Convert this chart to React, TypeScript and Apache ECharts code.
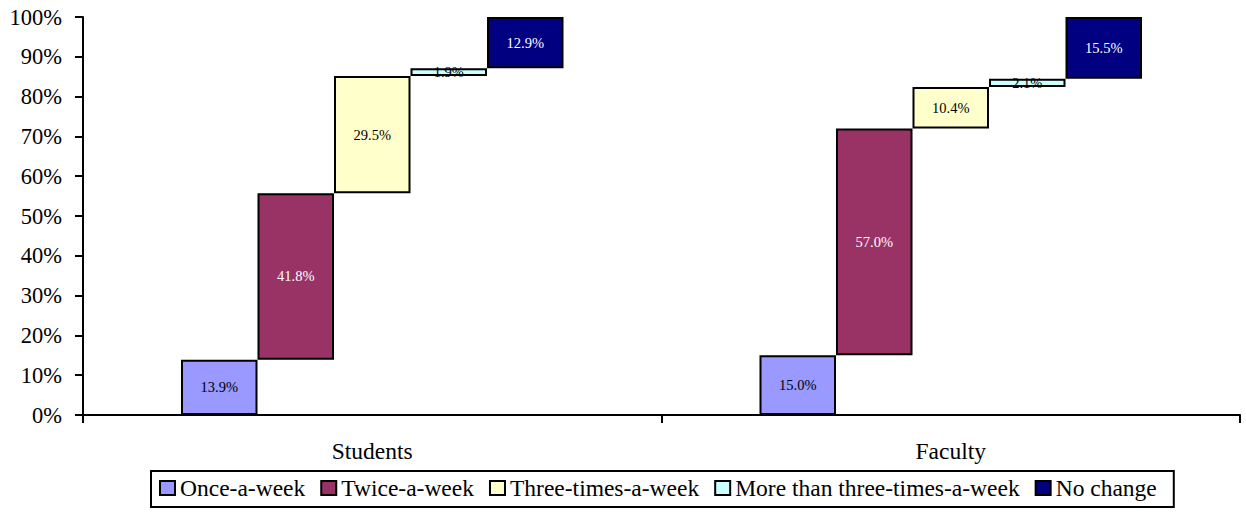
import React, { useEffect, useRef } from "react";
import * as echarts from "echarts";

const categories = ["Students", "Faculty"];
const seriesNames = [
  "Once-a-week",
  "Twice-a-week",
  "Three-times-a-week",
  "More than three-times-a-week",
  "No change",
];
// Share (%) per frequency, one array per frequency: [Students, Faculty]
const onceAWeek = [13.9, 15.0];
const twiceAWeek = [41.8, 57.0];
const threeTimesAWeek = [29.5, 10.4];
const moreThanThree = [1.9, 2.1];
const noChange = [12.9, 15.5];
const yTicks = [0, 10, 20, 30, 40, 50, 60, 70, 80, 90, 100];

const fillColors = ["#9999FF", "#993366", "#FFFFCC", "#CCFFFF", "#000080"];
const labelColors = ["#000", "#fff", "#000", "#000", "#fff"];

const FONT = "Liberation Serif";

export default function App() {
  const ref = useRef<HTMLDivElement>(null);

  useEffect(() => {
    if (!ref.current) return;
    const chart = echarts.init(ref.current, null, { renderer: "svg" });

    const valueSets = [onceAWeek, twiceAWeek, threeTimesAWeek, moreThanThree, noChange];
    // floating bars: each segment starts where the previous one ends
    const bases: number[][] = [];
    valueSets.forEach((vals, i) => {
      if (i === 0) bases.push(vals.map(() => 0));
      else bases.push(bases[i - 1].map((b, k) => b + valueSets[i - 1][k]));
    });

    const series: any[] = [];
    valueSets.forEach((vals, i) => {
      series.push({
        name: "base" + i,
        type: "bar",
        stack: "s" + i,
        barWidth: 76.5,
        barGap: "0%",
        silent: true,
        itemStyle: { color: "rgba(0,0,0,0)", borderWidth: 0 },
        data: bases[i].map((b) => +b.toFixed(2)),
      });
      series.push({
        name: seriesNames[i],
        type: "bar",
        stack: "s" + i,
        barWidth: 76.5,
        barGap: "0%",
        itemStyle: { color: fillColors[i], borderColor: "#000", borderWidth: 2 },
        label: {
          show: true,
          position: "inside",
          color: labelColors[i],
          fontFamily: FONT,
          fontSize: 14.5,
          formatter: (p: any) => Number(p.value).toFixed(1) + "%",
        },
        data: vals,
      });
    });

    chart.setOption({
      animation: false,
      textStyle: { fontFamily: FONT },
      grid: { left: 83, right: 6, top: 17, bottom: 97, containLabel: false },
      legend: {
        data: seriesNames,
        left: 151,
        top: 471,
        itemWidth: 15,
        itemHeight: 14,
        itemGap: 15,
        padding: [5, 17, 7, 8],
        borderColor: "#000",
        borderWidth: 2,
        icon: "rect",
        itemStyle: { borderColor: "#000", borderWidth: 2 },
        textStyle: { fontFamily: FONT, fontSize: 23.5, color: "#000" },
      },
      xAxis: {
        type: "category",
        data: categories,
        axisLine: { lineStyle: { color: "#000", width: 2 } },
        axisTick: { show: true, length: 8, lineStyle: { color: "#000", width: 2 } },
        axisLabel: { fontFamily: FONT, fontSize: 23.5, color: "#000", margin: 24 },
      },
      yAxis: {
        type: "value",
        min: yTicks[0],
        max: yTicks[yTicks.length - 1],
        interval: 10,
        splitLine: { show: false },
        axisLine: { show: true, lineStyle: { color: "#000", width: 2 } },
        axisTick: { show: true, length: 8, lineStyle: { color: "#000", width: 2 } },
        axisLabel: {
          fontFamily: FONT,
          fontSize: 22.5,
          color: "#000",
          margin: 21,
          formatter: "{value}%",
        },
      },
      series,
    });

    return () => chart.dispose();
  }, []);

  return (
    <div
      ref={ref}
      style={{ position: "fixed", left: 0, top: 0, width: 1246, height: 512, background: "#fff" }}
    />
  );
}
